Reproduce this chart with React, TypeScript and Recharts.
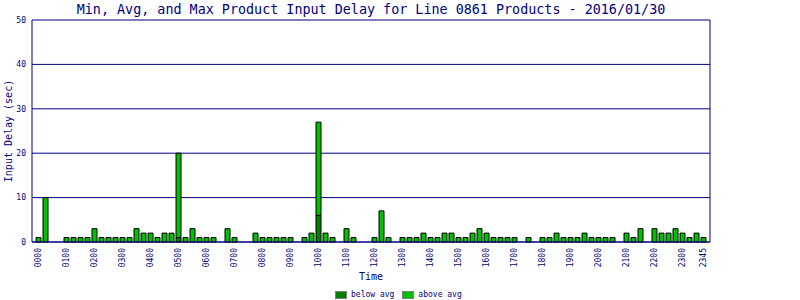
import { Bar, BarChart, CartesianGrid, XAxis, YAxis } from "recharts";

const NAVY = "#000080";
const DARK_GREEN = "#008000";
const LIGHT_GREEN = "#00c000";
const MONO = "'DejaVu Sans Mono', monospace";

// one slot every 15 minutes
const times: string[] = [];
for (let h = 0; h < 24; h++) {
    for (const m of ["00", "15", "30", "45"]) {
        times.push(String(h).padStart(2, "0") + m);
    }
}

const belowAvg = [
    0, 0, 0, 0, 0, 0, 0, 0, 0, 0, 0, 0, 0, 0, 0, 0,
    0, 0, 0, 0, 1, 0, 0, 0, 0, 0, 0, 0, 0, 0, 0, 0,
    0, 0, 0, 0, 0, 0, 0, 0, 6, 0, 0, 0, 0, 0, 0, 0,
    0, 0, 0, 0, 0, 0, 0, 0, 0, 0, 0, 0, 0, 0, 0, 0,
    0, 0, 0, 0, 0, 0, 0, 0, 0, 0, 0, 0, 0, 0, 0, 0,
    0, 0, 0, 0, 0, 0, 0, 0, 0, 0, 0, 0, 0, 0, 0, 0,
];

const aboveAvg = [
    1, 10, 0, 0, 1, 1, 1, 1, 3, 1, 1, 1, 1, 1, 3, 2,
    2, 1, 2, 2, 19, 1, 3, 1, 1, 1, 0, 3, 1, 0, 0, 2,
    1, 1, 1, 1, 1, 0, 1, 2, 21, 2, 1, 0, 3, 1, 0, 0,
    1, 7, 1, 0, 1, 1, 1, 2, 1, 1, 2, 2, 1, 1, 2, 3,
    2, 1, 1, 1, 1, 0, 1, 0, 1, 1, 2, 1, 1, 1, 2, 1,
    1, 1, 1, 0, 2, 1, 3, 0, 3, 2, 2, 3, 2, 1, 2, 1,
];

const timeTicks = [
    "0000", "0100", "0200", "0300", "0400", "0500", "0600", "0700",
    "0800", "0900", "1000", "1100", "1200", "1300", "1400", "1500",
    "1600", "1700", "1800", "1900", "2000", "2100", "2200", "2300", "2345",
];

const delayTicks = [0, 10, 20, 30, 40, 50];

const data = times.map((time, i) => ({
    time,
    below: belowAvg[i],
    above: aboveAvg[i],
}));

function TimeTick({ x, y, payload }: any) {
    return (
        <text
            x={x}
            y={y}
            transform={`rotate(-90, ${x}, ${y})`}
            textAnchor="end"
            dominantBaseline="central"
            fontFamily={MONO}
            fontSize={8}
            fill={NAVY}
        >
            {payload.value}
        </text>
    );
}

function LegendItem({ color, label }: { color: string; label: string }) {
    return (
        <div style={{ display: "flex", alignItems: "center", gap: 4 }}>
            <div
                style={{
                    width: 10,
                    height: 6,
                    background: color,
                    border: "1px solid #808080",
                }}
            />
            <span style={{ fontSize: 8, color: NAVY }}>{label}</span>
        </div>
    );
}

export default function App() {
    return (
        <div
            style={{
                position: "absolute",
                left: 0,
                top: 0,
                width: 800,
                height: 300,
                background: "#ffffff",
                fontFamily: MONO,
            }}
        >
            <div
                style={{
                    position: "absolute",
                    left: 0,
                    top: 2,
                    width: 742,
                    textAlign: "center",
                    fontSize: 13.4,
                    color: NAVY,
                    whiteSpace: "nowrap",
                }}
            >
                Min, Avg, and Max Product Input Delay for Line 0861 Products - 2016/01/30
            </div>

            <BarChart
                width={800}
                height={300}
                data={data}
                margin={{ top: 20, right: 89, left: 0, bottom: 0 }}
                barSize={5}
                barGap={0}
            >
                <CartesianGrid vertical={false} stroke={NAVY} strokeWidth={1} />
                <XAxis
                    dataKey="time"
                    ticks={timeTicks}
                    interval={0}
                    height={58}
                    padding={{ left: 3, right: 3 }}
                    axisLine={{ stroke: NAVY }}
                    tickLine={false}
                    tickSize={6}
                    tickMargin={0}
                    tick={<TimeTick />}
                    label={{
                        value: "Time",
                        position: "insideTop",
                        offset: 31,
                        fill: NAVY,
                        fontSize: 10,
                        fontFamily: MONO,
                    }}
                />
                <YAxis
                    domain={[0, 50]}
                    ticks={delayTicks}
                    width={32}
                    axisLine={{ stroke: NAVY }}
                    tickLine={false}
                    tickSize={4}
                    tickMargin={2}
                    tick={{ fontSize: 8, fill: NAVY, fontFamily: MONO }}
                    label={{
                        value: "Input Delay (sec)",
                        angle: -90,
                        position: "insideLeft",
                        offset: 0,
                        dx: 8,
                        style: {
                            textAnchor: "middle",
                            fill: NAVY,
                            fontSize: 10,
                            fontFamily: MONO,
                        },
                    }}
                />
                <YAxis
                    yAxisId="right"
                    orientation="right"
                    width={1}
                    tick={false}
                    tickLine={false}
                    axisLine={{ stroke: NAVY }}
                />
                <Bar
                    dataKey="below"
                    stackId="delay"
                    fill={DARK_GREEN}
                    stroke="#000000"
                    strokeWidth={1}
                    isAnimationActive={false}
                />
                <Bar
                    dataKey="above"
                    stackId="delay"
                    fill={LIGHT_GREEN}
                    stroke="#000000"
                    strokeWidth={1}
                    isAnimationActive={false}
                />
            </BarChart>

            <div
                style={{
                    position: "absolute",
                    left: 335,
                    top: 290,
                    display: "flex",
                    gap: 8,
                }}
            >
                <LegendItem color={DARK_GREEN} label="below avg" />
                <LegendItem color={LIGHT_GREEN} label="above avg" />
            </div>
        </div>
    );
}
